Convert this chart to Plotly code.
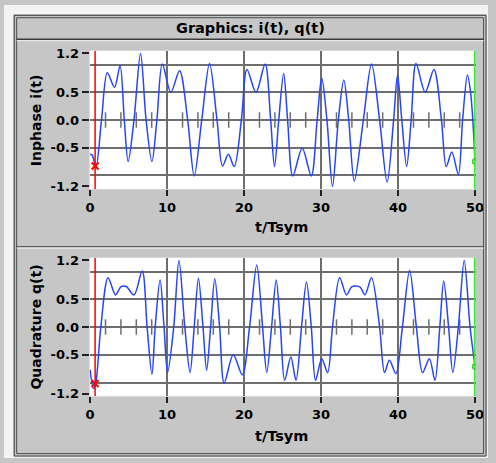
import plotly.graph_objects as go

# i(t) samples (t in symbol periods)
i_t = [0, 0.25, 0.76, 1.48, 2.24, 3.17, 3.89, 4.44, 4.94, 5.7, 6.55, 7.27, 8.03, 8.67,
       9.38, 10.48, 11.62, 12.67, 13.52, 14.5, 15.51, 16.48, 17.2, 17.96, 18.72, 19.65,
       20.37, 21.55, 22.73, 23.45, 23.95, 24.5, 25.14, 25.65, 26.32, 27.55, 28.73, 29.49,
       30.08, 30.76, 31.48, 32.24, 32.95, 33.59, 34.31, 35.49, 36.55, 37.6, 38.58, 39.42,
       39.93, 40.48, 41.11, 41.7, 42.33, 43.52, 44.66, 45.63, 46.26, 46.98, 47.83, 48.38,
       49.01, 49.45, 50]
i_val = [-0.62, -0.63, -0.84, 0, 0.85, 0.59, 0.98, 0, -0.75, 0, 1.2, 0, -0.75, 0,
         1.01, 0.5, 0.89, 0, -1.01, 0, 1.02, 0, -0.83, -0.62, -0.84, 0,
         0.91, 0.5, 1.01, 0, -0.84, 0, 0.84, 0, -1.01, -0.51, -1.01, 0,
         0.76, 0, -1.2, 0, 0.72, 0, -1.1, 0, 1.01, 0, -1.12, 0,
         0.81, 0, -0.84, 0, 1.02, 0.5, 0.91, 0, -0.84, -0.58, -0.98, 0,
         0.81, 0.45, -0.75]

# q(t) samples
q_t = [0, 0.43, 0.72, 1.39, 2.33, 3.3, 4.02, 4.7, 5.7, 6.77, 7.4, 8.03, 8.45, 9.09, 9.6,
       10.06, 10.86, 11.54, 12.3, 12.98, 13.52, 14.07, 14.66, 15.13, 15.65, 16.19, 16.82,
       17.41, 18.59, 19.77, 20.71, 21.64, 22.4, 22.94, 23.57, 24.17, 24.72, 25.27, 26.07,
       26.74, 27.46, 28.1, 28.73, 29.28, 30.08, 30.85, 31.48, 32.41, 33.3, 34.02, 35.07,
       35.7, 36.55, 37.6, 38.24, 38.87, 39.72, 40.56, 41.5, 42.38, 43.18, 44.07, 44.79,
       45.42, 45.93, 46.56, 47.11, 47.83, 48.59, 49.35, 50]
q_val = [-0.77, -1.11, -1.02, 0, 0.89, 0.58, 0.73, 0.73, 0.58, 1.01, 0, -0.85, 0, 0.85, 0,
         -0.82, 0, 1.2, 0, -0.82, 0, 0.88, 0, -0.78, 0, 0.87, 0,
         -1.01, -0.5, -0.86, 0, 1.12, 0, -0.82, 0, 0.85, 0, -0.96, -0.54,
         -0.96, 0, 0.81, 0, -0.96, -0.57, -0.82, 0, 0.89, 0.58, 0.73, 0.72,
         0.58, 0.89, 0, -0.82, -0.6, -0.84, 0, 1.02, 0, -0.82, -0.57, -0.96,
         0, 0.83, 0, -0.82, 0, 1.2, 0, -0.71]

# symbol instants marked on the zero line
sym_t = [2, 4, 6, 8, 12, 14, 16, 18, 22, 24, 26, 28, 32, 34, 36, 38, 42, 44, 46, 48]

# cursors
cursor_t = 0.65
cursor_i = -0.83
cursor_q = -1.02
end_t = 50

x_ticks = [0, 10, 20, 30, 40, 50]
y_ticks = [-1.2, -0.5, 0, 0.5, 1.2]
y_ticktext = ["-1.2", "-0.5", "0.0", "0.5", "1.2"]
y_grid = [-1, -0.5, 0, 0.5, 1]
x_grid = [10, 20, 30, 40]

W, H = 496, 463
def px(x):
    return x / W
def py(y):
    return 1 - y / H

BLUE = "#2444ff"
GRID = "#6e6e6e"
FONT = "DejaVu Sans"

fig = go.Figure()

panels = [("x", "y", i_t, i_val, cursor_i), ("x2", "y2", q_t, q_val, cursor_q)]
for xa, ya, tt, vv, cv in panels:
    fig.add_trace(go.Scatter(x=sym_t, y=[0] * len(sym_t), xaxis=xa, yaxis=ya, mode="markers",
                             marker=dict(symbol="line-ns", size=11, line=dict(color=GRID, width=1.5)),
                             hoverinfo="skip", showlegend=False))
    fig.add_trace(go.Scatter(x=tt, y=vv, xaxis=xa, yaxis=ya, mode="lines",
                             line=dict(color=BLUE, width=1.5, shape="spline", smoothing=0.9),
                             showlegend=False))
    fig.add_trace(go.Scatter(x=[cursor_t, cursor_t], y=[-1.25, 1.25], xaxis=xa, yaxis=ya, mode="lines",
                             line=dict(color="#ff0000", width=1.5), hoverinfo="skip", showlegend=False))
    fig.add_trace(go.Scatter(x=[end_t, end_t], y=[-1.25, 1.25], xaxis=xa, yaxis=ya, mode="lines",
                             line=dict(color="#33ee33", width=2.5), hoverinfo="skip", showlegend=False))
    fig.add_trace(go.Scatter(x=[cursor_t], y=[cv], xaxis=xa, yaxis=ya, mode="markers",
                             marker=dict(symbol="x-thin", size=7, line=dict(color="#ff0000", width=2)),
                             showlegend=False))
    fig.add_trace(go.Scatter(x=[tt[-1]], y=[vv[-1]], xaxis=xa, yaxis=ya, mode="markers",
                             marker=dict(symbol="circle-open", size=5, color="#33cc33", line=dict(width=1.5)),
                             showlegend=False))

xdom = [px(87.7), px(483.3)]
xax = dict(domain=xdom, range=[-0.07, 50.07], tickmode="array", tickvals=x_ticks,
           showgrid=False, zeroline=False, ticks="outside", ticklen=6, tickwidth=1.5,
           tickcolor="#202020", tickfont=dict(family=FONT, size=13, color="#000000", weight="bold"),
           minor=dict(tickmode="array", tickvals=x_grid, showgrid=True, gridcolor=GRID,
                      gridwidth=1.5, ticks=""),
           fixedrange=True)
yax = dict(range=[-1.25, 1.25], tickmode="array", tickvals=y_ticks, ticktext=y_ticktext,
           showgrid=False, zeroline=False, ticks="outside", ticklen=7, tickwidth=1.5,
           tickcolor="#202020", tickfont=dict(family=FONT, size=13, color="#000000", weight="bold"),
           minor=dict(tickmode="array", tickvals=y_grid, showgrid=True, gridcolor=GRID,
                      gridwidth=1.5, ticks=""),
           fixedrange=True)

shapes = []
light = "#f3f3f3"
# light strips outside the window frame
shapes.append(dict(type="rect", xref="paper", yref="paper", x0=0, x1=px(9.5), y0=0, y1=1,
                   fillcolor=light, line=dict(width=0)))
shapes.append(dict(type="rect", xref="paper", yref="paper", x0=0, x1=1, y0=py(9.5), y1=1,
                   fillcolor=light, line=dict(width=0)))
shapes.append(dict(type="rect", xref="paper", yref="paper", x0=px(494.5), x1=1, y0=0, y1=1,
                   fillcolor=light, line=dict(width=0)))
shapes.append(dict(type="rect", xref="paper", yref="paper", x0=0, x1=1, y0=0, y1=py(461.5),
                   fillcolor=light, line=dict(width=0)))
# window frame
shapes.append(dict(type="rect", xref="paper", yref="paper", x0=px(10.5), x1=px(494), y0=py(461), y1=py(10.5),
                   line=dict(color="#3a3a3a", width=1)))
shapes.append(dict(type="rect", xref="paper", yref="paper", x0=px(13), x1=px(491.5), y0=py(458.5), y1=py(13),
                   line=dict(color="#4a4a4a", width=1)))
shapes.append(dict(type="line", xref="paper", yref="paper", x0=px(13), x1=px(491.5), y0=py(35), y1=py(35),
                   line=dict(color="#3a3a3a", width=1.5)))
shapes.append(dict(type="line", xref="paper", yref="paper", x0=px(13), x1=px(491.5), y0=py(36.5), y1=py(36.5),
                   line=dict(color="#f0f0f0", width=1)))
shapes.append(dict(type="line", xref="paper", yref="paper", x0=px(13), x1=px(491.5), y0=py(247), y1=py(247),
                   line=dict(color="#4a4a4a", width=1)))
shapes.append(dict(type="line", xref="paper", yref="paper", x0=px(13), x1=px(491.5), y0=py(248.5), y1=py(248.5),
                   line=dict(color="#f0f0f0", width=1)))

annotations = [
    dict(text="Graphics: i(t), q(t)", x=px(253), y=py(24), font=dict(size=14.5)),
    dict(text="Inphase i(t)", x=px(33), y=py(117.5), textangle=-90, font=dict(size=14)),
    dict(text="t/Tsym", x=px(284), y=py(227), font=dict(size=14.5)),
    dict(text="Quadrature q(t)", x=px(33), y=py(329.5), textangle=-90, font=dict(size=14)),
    dict(text="t/Tsym", x=px(284), y=py(441), font=dict(size=14.5)),
]
for a in annotations:
    a.update(xref="paper", yref="paper", showarrow=False, xanchor="center", yanchor="middle")
    a["font"].update(family=FONT, color="#000000", weight="bold")

fig.update_layout(
    width=W, height=H,
    margin=dict(l=0, r=0, t=0, b=0),
    paper_bgcolor="#c6c6c6",
    plot_bgcolor="#ffffff",
    showlegend=False,
    xaxis=dict(xax, anchor="y"),
    yaxis=dict(yax, domain=[py(188.3), py(46.7)], anchor="x"),
    xaxis2=dict(xax, anchor="y2"),
    yaxis2=dict(yax, domain=[py(400), py(258.3)], anchor="x2"),
    shapes=shapes,
    annotations=annotations,
)

# the page body has a default margin; drop it so the figure fills the window
fig.write_html("out.html", config={"displayModeBar": False},
               post_script="document.body.style.margin='0';document.body.style.overflow='hidden';")
